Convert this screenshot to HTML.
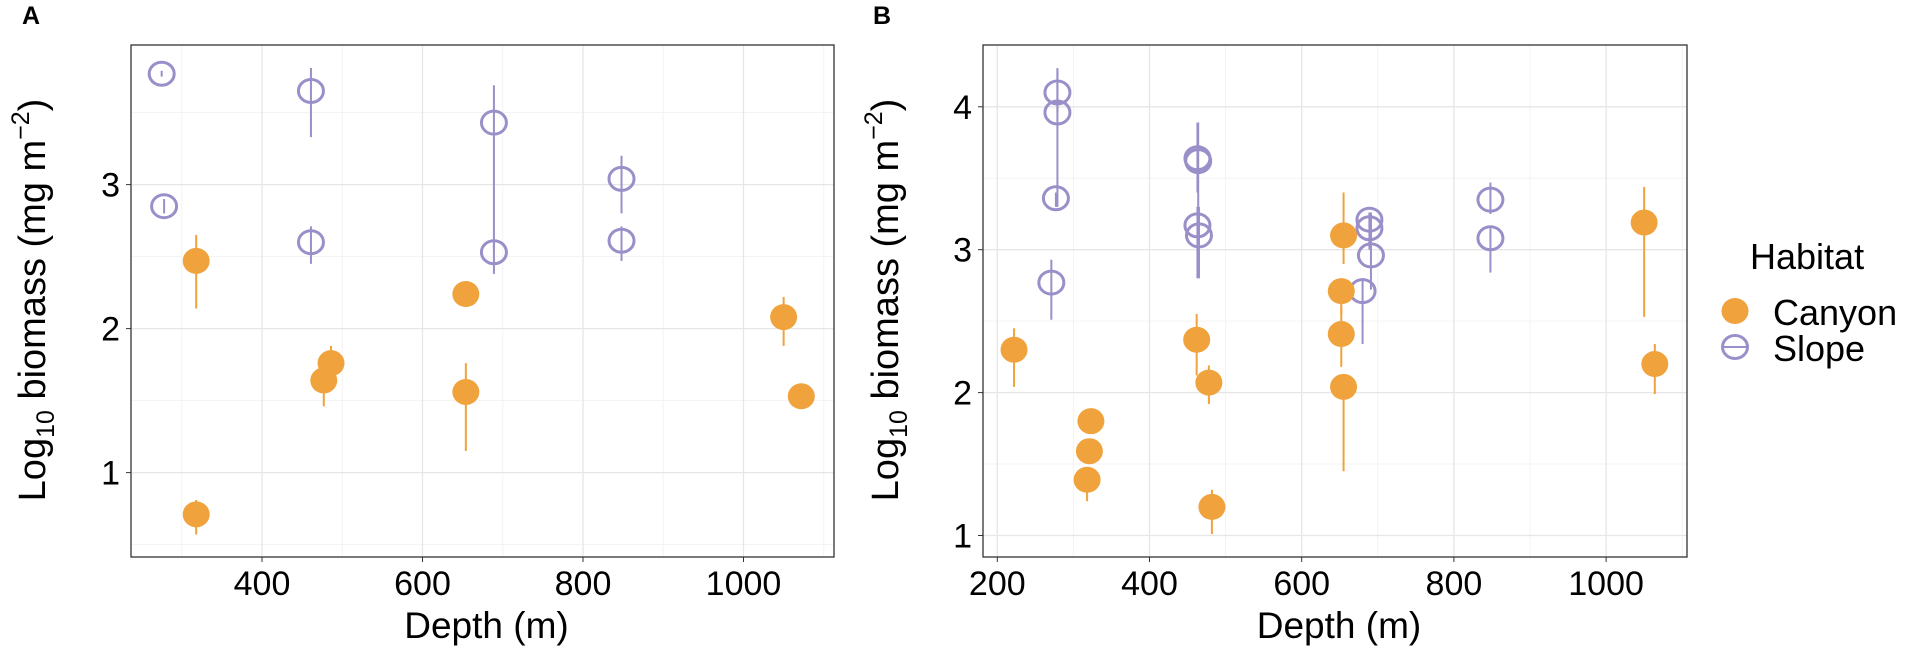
<!DOCTYPE html>
<html><head><meta charset="utf-8"><style>
body{margin:0;background:#fff;}
svg{display:block;font-family:"Liberation Sans",Arial,sans-serif;}
</style></head><body>
<svg id="chart" width="1907" height="648" viewBox="0 0 1907 648"></svg>
<script>
// ---- Panel A data ----
const aSlopeDepth = [275, 278, 461, 461, 689, 689, 848, 848];
const aSlopeVal   = [3.77, 2.85, 3.65, 2.60, 3.43, 2.53, 3.04, 2.61];
const aSlopeLo    = [3.75, 2.80, 3.33, 2.45, 2.55, 2.38, 2.80, 2.47];
const aSlopeHi    = [3.79, 2.90, 3.81, 2.71, 3.69, 2.60, 3.20, 2.71];
const aCanyonDepth = [318, 318, 477, 486, 654, 654, 1050, 1072];
const aCanyonVal   = [2.47, 0.71, 1.64, 1.76, 2.24, 1.56, 2.08, 1.53];
const aCanyonLo    = [2.14, 0.57, 1.46, 1.70, 2.20, 1.15, 1.88, 1.50];
const aCanyonHi    = [2.65, 0.81, 1.70, 1.88, 2.28, 1.76, 2.22, 1.56];
const aXTicks = [400, 600, 800, 1000];
const aYTicks = [1, 2, 3];
// ---- Panel B data ----
const bSlopeDepth = [279, 279, 277, 271, 463, 464, 463, 465, 689, 689, 691, 680, 848, 848];
const bSlopeVal   = [4.10, 3.96, 3.36, 2.77, 3.64, 3.62, 3.17, 3.10, 3.21, 3.15, 2.96, 2.71, 3.35, 3.08];
const bSlopeLo    = [3.96, 3.30, 3.30, 2.51, 3.40, 2.80, 2.80, 2.80, 3.15, 3.00, 2.72, 2.34, 3.25, 2.84];
const bSlopeHi    = [4.27, 4.27, 3.40, 2.93, 3.89, 3.89, 3.30, 3.30, 3.26, 3.26, 3.26, 2.80, 3.47, 3.15];
const bCanyonDepth = [222, 323, 321, 318, 462, 478, 482, 655, 652, 652, 655, 1050, 1064];
const bCanyonVal   = [2.30, 1.80, 1.59, 1.39, 2.37, 2.07, 1.20, 3.10, 2.71, 2.41, 2.04, 3.19, 2.20];
const bCanyonLo    = [2.04, 1.75, 1.55, 1.24, 2.12, 1.92, 1.01, 2.90, 2.55, 2.18, 1.45, 2.53, 1.99];
const bCanyonHi    = [2.45, 1.85, 1.65, 1.45, 2.55, 2.19, 1.32, 3.40, 2.80, 2.60, 2.10, 3.44, 2.34];
const bXTicks = [200, 400, 600, 800, 1000];
const bYTicks = [1, 2, 3, 4];

const NS = "http://www.w3.org/2000/svg";
const svg = document.getElementById('chart');
const ORANGE = "#F0A23C", PURPLE = "#9A8FC9";
function mk(tag, attrs, parent){
  const e = document.createElementNS(NS, tag);
  for (const k in attrs) e.setAttribute(k, attrs[k]);
  (parent || svg).appendChild(e);
  return e;
}

function panel(cfg){
  const g = mk('g', {});
  
  
  const X = d => cfg.x0 + (d - cfg.d0) * cfg.sx;
  const Y = v => cfg.y0 - (v - cfg.v0) * cfg.sy;
  const L = cfg.left, R = cfg.right, T = 45, B = 557;
  mk('rect', {x:L, y:T, width:R-L, height:B-T, fill:'#fff'}, g);
  for (let d = cfg.minorX0; d <= cfg.minorX1; d += 200) {
    const x = X(d); if (x > L && x < R) mk('line', {x1:x, x2:x, y1:T, y2:B, stroke:'#f3f3f3', 'stroke-width':1}, g);
  }
  for (let v = cfg.minorY0; v <= cfg.minorY1; v += 1) {
    const y = Y(v); if (y > T && y < B) mk('line', {x1:L, x2:R, y1:y, y2:y, stroke:'#f3f3f3', 'stroke-width':1}, g);
  }
  cfg.xt.forEach(d => {
    const x = X(d);
    const gl = mk('line', {x1:x, x2:x, y1:T, y2:B, stroke:'#e6e6e6', 'stroke-width':1.3}, g);
    
    
    mk('line', {x1:x, x2:x, y1:B, y2:B+5, stroke:'#333', 'stroke-width':1}, g);
    const t = mk('text', {x:x, y:595, 'text-anchor':'middle', 'font-size':34, fill:'#000'}, g);
    t.textContent = d;
    
    
  });
  cfg.yt.forEach(v => {
    const y = Y(v);
    const gl = mk('line', {x1:L, x2:R, y1:y, y2:y, stroke:'#e6e6e6', 'stroke-width':1.3}, g);
    
    
    mk('line', {x1:L-5, x2:L, y1:y, y2:y, stroke:'#333', 'stroke-width':1}, g);
    const t = mk('text', {x:L-11, y:y+12, 'text-anchor':'end', 'font-size':34, fill:'#000'}, g);
    t.textContent = v;
    
    
  });
  cfg.sd.forEach((d, i) => {
    const x = X(d);
    const eb = mk('line', {x1:x, x2:x, y1:Y(cfg.shi[i]), y2:Y(cfg.slo[i]), stroke:PURPLE, 'stroke-width':2}, g);
    
    
    const c = mk('ellipse', {cx:x, cy:Y(cfg.sv[i]), rx:12.5, ry:11.5, fill:'none', stroke:PURPLE, 'stroke-width':3}, g);
    
    
  });
  cfg.cd.forEach((d, i) => {
    const x = X(d);
    const eb = mk('line', {x1:x, x2:x, y1:Y(cfg.chi[i]), y2:Y(cfg.clo[i]), stroke:ORANGE, 'stroke-width':2}, g);
    
    
    const c = mk('ellipse', {cx:x, cy:Y(cfg.cv[i]), rx:13.5, ry:13, fill:ORANGE}, g);
    
    
  });
  mk('rect', {x:L, y:T, width:R-L, height:B-T, fill:'none', stroke:'#333', 'stroke-width':1.3}, g);
  const xt = mk('text', {x:(L+R)/2 + 4, y:638, 'text-anchor':'middle', 'font-size':37, fill:'#000'}, g);
  xt.textContent = 'Depth (m)';
  
  
  const yt = mk('text', {transform:`translate(${cfg.ytx},300) rotate(-90)`, 'text-anchor':'middle', 'font-size':38, fill:'#000'}, g);
  yt.innerHTML = 'Log<tspan font-size="25" dy="9">10</tspan><tspan dy="-9"> biomass (mg m</tspan><tspan font-size="25" dy="-16">−2</tspan><tspan dy="16">)</tspan>';
  
  
  const pl = mk('text', {x:cfg.lx, y:24, 'font-size':25, 'font-weight':'bold', fill:'#000'}, g);
  pl.textContent = cfg.letter;
  
  
}

panel({name:'panel-a', letter:'A', lx:22, ytx:45, left:131, right:834, x0:262, d0:400, sx:0.8025, y0:328.6, v0:2, sy:144,
  minorX0:300, minorX1:1100, minorY0:0.5, minorY1:3.5, xt:aXTicks, yt:aYTicks,
  sd:aSlopeDepth, sv:aSlopeVal, slo:aSlopeLo, shi:aSlopeHi, cd:aCanyonDepth, cv:aCanyonVal, clo:aCanyonLo, chi:aCanyonHi});
panel({name:'panel-b', letter:'B', lx:873, ytx:898, left:983, right:1687, x0:997.3, d0:200, sx:0.761, y0:535.5, v0:1, sy:142.9,
  minorX0:300, minorX1:1100, minorY0:1.5, minorY1:4.5, xt:bXTicks, yt:bYTicks,
  sd:bSlopeDepth, sv:bSlopeVal, slo:bSlopeLo, shi:bSlopeHi, cd:bCanyonDepth, cv:bCanyonVal, clo:bCanyonLo, chi:bCanyonHi});

const lg = mk('g', {});


const lt = mk('text', {x:1750, y:269, 'font-size':36, fill:'#000'}, lg);
lt.textContent = 'Habitat';


const e1 = mk('ellipse', {cx:1735, cy:311, rx:13.5, ry:13, fill:ORANGE}, lg);


const t1 = mk('text', {x:1773, y:325, 'font-size':36, fill:'#000'}, lg);
t1.textContent = 'Canyon';


const e2 = mk('ellipse', {cx:1735, cy:347, rx:12.5, ry:11.5, fill:'none', stroke:PURPLE, 'stroke-width':3}, lg);


mk('line', {x1:1723, x2:1747, y1:347, y2:347, stroke:PURPLE, 'stroke-width':2}, lg);
const t2 = mk('text', {x:1773, y:361, 'font-size':36, fill:'#000'}, lg);
t2.textContent = 'Slope';


</script>
</body></html>
